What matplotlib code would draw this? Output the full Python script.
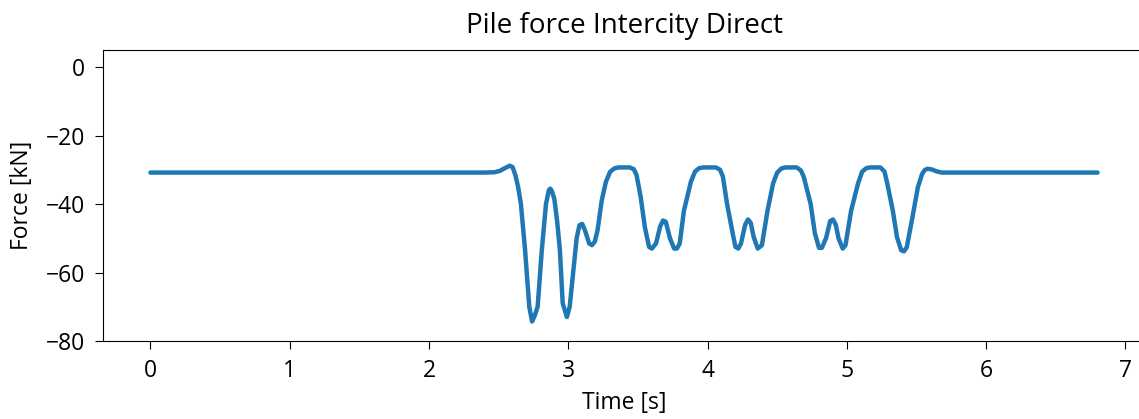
import matplotlib
matplotlib.use('Agg')
import matplotlib.pyplot as plt
import numpy as np

plt.rcParams['font.family'] = ['Open Sans', 'DejaVu Sans']

# pile force trace, time in s, force in kN
time = [0.0, 2.40, 2.47, 2.51, 2.54, 2.58, 2.60, 2.62, 2.64, 2.66, 2.69, 2.72, 2.74, 2.76, 2.78,
        2.81, 2.84, 2.86, 2.87, 2.88, 2.90, 2.92, 2.94, 2.96, 2.99, 3.01, 3.04, 3.06, 3.08, 3.10,
        3.12, 3.15, 3.17, 3.19, 3.21, 3.24, 3.27, 3.30, 3.33, 3.36, 3.44, 3.47, 3.49, 3.52, 3.55,
        3.58, 3.60, 3.63, 3.66, 3.68, 3.70, 3.73, 3.76, 3.78, 3.80, 3.83, 3.88, 3.91, 3.94, 3.97, 4.06,
        4.09, 4.11, 4.14, 4.18, 4.20, 4.22, 4.24, 4.27, 4.29, 4.31, 4.33, 4.36, 4.39, 4.43, 4.47, 4.50,
        4.53, 4.56, 4.64, 4.67, 4.69, 4.74, 4.77, 4.80, 4.82, 4.85, 4.88, 4.90, 4.92, 4.94, 4.97,
        4.99, 5.03, 5.08, 5.11, 5.14, 5.17, 5.24, 5.27, 5.29, 5.33, 5.36, 5.39, 5.41, 5.43, 5.47,
        5.51, 5.54, 5.56, 5.58, 5.61, 5.64, 5.68, 5.75, 6.8]
force = [-30.8, -30.8, -30.7, -30.3, -29.6, -28.8, -29.2, -31.5, -35.0, -40.0, -53.5, -70.0, -74.3, -72.5, -70.0,
         -53.5, -40.0, -36.0, -35.5, -36.0, -38.5, -45.0, -53.5, -69.0, -73.0, -70.0, -58.0, -50.0, -46.2, -45.8,
         -47.7, -51.5, -52.0, -51.0, -47.7, -39.0, -33.5, -30.6, -29.6, -29.3, -29.3, -29.8, -31.5, -38.0, -46.8,
         -52.5, -53.0, -51.5, -46.5, -44.8, -45.2, -50.0, -53.0, -53.0, -51.5, -42.0, -33.5, -30.5, -29.5, -29.3, -29.3,
         -30.0, -32.0, -40.0, -48.5, -52.5, -53.0, -51.5, -46.0, -44.5, -45.5, -49.5, -53.0, -52.0, -42.0, -34.0, -30.8,
         -29.6, -29.3, -29.3, -30.2, -32.0, -40.0, -48.5, -52.8, -52.8, -50.0, -45.0, -44.5, -46.0, -50.0, -53.0,
         -52.0, -42.0, -34.0, -30.5, -29.5, -29.3, -29.3, -30.5, -34.0, -42.0, -49.7, -53.5, -53.8, -52.6, -44.0,
         -35.0, -31.2, -30.0, -29.7, -29.9, -30.4, -30.8, -30.8, -30.8]

fig = plt.figure(figsize=(11.39, 4.19), dpi=100)
ax = fig.add_axes([103/1139, 78/419, 1042/1139, 291/419])

ax.plot(time, force, color='#1f77b4', linewidth=3.2,
        solid_joinstyle='round', solid_capstyle='round')
ax.set_xlim(-0.34, 7.14)
ax.set_ylim(-80, 5)
ax.set_xticks(np.arange(0, 8, 1))
ax.set_yticks([0, -20, -40, -60, -80])
ax.tick_params(labelsize=16.5, length=6, pad=7)
ax.set_title("Pile force Intercity Direct", fontsize=20, pad=12)
ax.set_xlabel("Time [s]", fontsize=16.5, labelpad=6)
ax.set_ylabel("Force [kN]", fontsize=16.5, labelpad=8)

plt.savefig('out.png', dpi=100)
